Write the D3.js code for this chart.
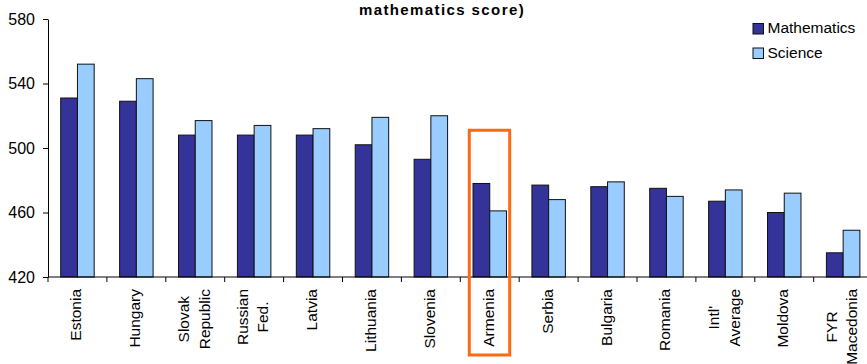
<!DOCTYPE html>
<html>
<head>
<meta charset="utf-8">
<script src="https://cdn.jsdelivr.net/npm/d3@7"></script>
<style>
  html, body { margin: 0; padding: 0; background: #ffffff; }
  svg { display: block; font-family: "Liberation Sans", Arial, sans-serif; }
</style>
</head>
<body>
<svg id="chart" width="867" height="364"></svg>
<script>
// Mean scores by country, ordered by mathematics score
const categories = [
  "Estonia", "Hungary", "Slovak\nRepublic", "Russian\nFed.", "Latvia",
  "Lithuania", "Slovenia", "Armenia", "Serbia", "Bulgaria", "Romania",
  "Intl'\nAverage", "Moldova", "FYR\nMacedonia"
];
const mathematics = [531, 529, 508, 508, 508, 502, 493, 478, 477, 476, 475, 467, 460, 435];
const science     = [552, 543, 517, 514, 512, 519, 520, 461, 468, 479, 470, 474, 472, 449];
const seriesNames = ["Mathematics", "Science"];
const seriesColors = ["#333399", "#99CCFF"];
const yTicks = [420, 460, 500, 540, 580];
const highlighted = "Armenia";
const highlightTop = 511;

const svg = d3.select("#chart");
const plotLeft = 48, plotTop = 19, plotBottom = 277;
const step = 58.9;

const x = d3.scaleBand()
  .domain(categories)
  .range([plotLeft, plotLeft + step * categories.length])
  .paddingInner(0).paddingOuter(0);

const xInner = d3.scaleBand()
  .domain(seriesNames)
  .range([0, x.bandwidth()])
  .paddingInner(0).paddingOuter(0.76);

const y = d3.scaleLinear().domain([420, 580]).range([plotBottom, plotTop]);

// Title (second line of a wrapped heading)
svg.append("text")
  .attr("x", 442).attr("y", 15)
  .attr("text-anchor", "middle")
  .attr("font-size", "15px").attr("font-weight", "bold")
  .attr("letter-spacing", "1.4px")
  .attr("fill", "#000")
  .text("mathematics score)");

// Bars
const rows = categories.map((c, i) => ({ c, vals: [mathematics[i], science[i]] }));
const groups = svg.append("g").selectAll("g")
  .data(rows).join("g")
  .attr("transform", d => `translate(${x(d.c)},0)`);

groups.selectAll("rect")
  .data(d => d.vals.map((v, k) => ({ s: seriesNames[k], v, k })))
  .join("rect")
  .attr("x", d => xInner(d.s))
  .attr("y", d => y(d.v))
  .attr("width", xInner.bandwidth())
  .attr("height", d => y(420) - y(d.v))
  .attr("fill", d => seriesColors[d.k])
  .attr("stroke", "#111")
  .attr("stroke-width", 1);

// Y axis
const yAxis = svg.append("g")
  .attr("transform", `translate(${plotLeft},0)`)
  .call(d3.axisLeft(y).tickValues(yTicks).tickSize(5).tickSizeOuter(0).tickPadding(8));
yAxis.select(".domain").attr("stroke", "#000");
yAxis.selectAll(".tick line").attr("stroke", "#000");
yAxis.selectAll(".tick text")
  .attr("font-size", "16px")
  .attr("font-family", "Liberation Sans, Arial, sans-serif")
  .attr("fill", "#000");

// X axis baseline and category separators
svg.append("line")
  .attr("x1", plotLeft).attr("x2", 867)
  .attr("y1", plotBottom).attr("y2", plotBottom)
  .attr("stroke", "#000");
svg.append("g").selectAll("line")
  .data(categories).join("line")
  .attr("x1", d => x(d)).attr("x2", d => x(d))
  .attr("y1", plotBottom).attr("y2", plotBottom + 5)
  .attr("stroke", "#000");

// Category labels, rotated, multi-line labels centred on each other
const labelTop = 289;
const lineGap = 20.5;
categories.forEach(c => {
  const lines = c.split("\n");
  const cx = x(c) + x.bandwidth() / 2;
  const g = svg.append("g")
    .attr("transform", `translate(${cx},${labelTop}) rotate(-90)`);
  const texts = lines.map((ln, j) => g.append("text")
    .attr("font-size", "15.5px")
    .attr("fill", "#000")
    .attr("text-anchor", "middle")
    .attr("y", 4 + (j - (lines.length - 1) / 2) * lineGap)
    .text(ln));
  const maxLen = d3.max(texts, t => t.node().getComputedTextLength());
  texts.forEach(t => t.attr("x", -maxLen / 2));
});

// Highlight box around one country
const hx = x(highlighted);
svg.append("rect")
  .attr("x", hx + 9)
  .attr("y", y(highlightTop))
  .attr("width", x.bandwidth() - 18.5)
  .attr("height", 355 - y(highlightTop))
  .attr("fill", "none")
  .attr("stroke", "#FF6A10")
  .attr("stroke-width", 3);

// Legend
const legend = svg.append("g").attr("transform", "translate(753,23)");
seriesNames.forEach((s, k) => {
  const row = legend.append("g").attr("transform", `translate(0,${k * 24.5})`);
  row.append("rect")
    .attr("x", 0).attr("y", 0.5).attr("width", 10.5).attr("height", 10.5)
    .attr("fill", seriesColors[k]).attr("stroke", "#111").attr("stroke-width", 1);
  row.append("text")
    .attr("x", 14.5).attr("y", 10.2)
    .attr("font-size", "15.5px").attr("fill", "#000")
    .text(s);
});
</script>
</body>
</html>
